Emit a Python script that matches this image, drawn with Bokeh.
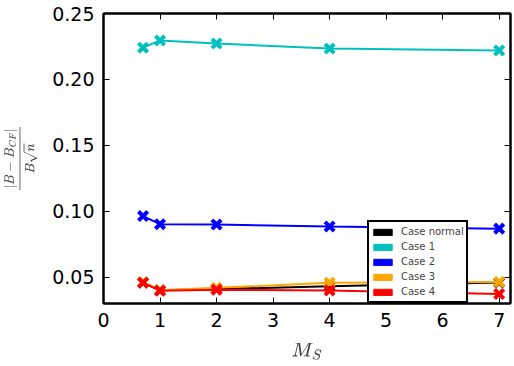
from bokeh.plotting import figure
from bokeh.models import (LinearAxis, Range1d, Legend, LegendItem, ColumnDataSource,
                          FixedTicker, CustomJSTickFormatter)
from bokeh.embed import file_html
from bokeh.resources import INLINE

# Sonic Mach number samples
ms = [0.7, 1, 2, 4, 7]

# Relative error of the field-strength estimate, per case
case_normal = [0.046, 0.040, 0.041, 0.043, 0.046]
case_1 = [0.2241, 0.2295, 0.2272, 0.2234, 0.2219]
case_2 = [0.0963, 0.0902, 0.0899, 0.0884, 0.0868]
case_3 = [0.0462, 0.0401, 0.0419, 0.0457, 0.0463]
case_4 = [0.0457, 0.0397, 0.0404, 0.0399, 0.0372]

names = ["Case normal", "Case 1", "Case 2", "Case 3", "Case 4"]
colors = ["black", "#00BFBF", "blue", "orange", "red"]
series = [case_normal, case_1, case_2, case_3, case_4]

x_ticks = [0, 1, 2, 3, 4, 5, 6, 7]
y_ticks = [0.05, 0.10, 0.15, 0.20, 0.25]

p = figure(width=514, height=366, output_backend="svg", toolbar_location=None,
           x_range=Range1d(0, 7.2), y_range=Range1d(0.03, 0.25),
           min_border_left=103, min_border_right=4, min_border_top=13,
           min_border_bottom=63)
p.grid.visible = False
p.background_fill_color = "white"
p.border_fill_color = "white"
p.outline_line_color = "black"
p.outline_line_width = 2

FONT = "DejaVu Sans"


def style_axis(ax, labels=True):
    ax.axis_line_width = 2
    ax.axis_line_color = "black"
    ax.major_tick_in = 6
    ax.major_tick_out = 0
    ax.major_tick_line_width = 1
    ax.minor_tick_line_color = None
    ax.major_label_text_font = FONT
    ax.major_label_text_font_size = "19px"
    ax.major_label_text_color = "black"
    ax.major_label_standoff = 9
    if not labels:
        ax.formatter = CustomJSTickFormatter(code="return '';")
        ax.major_label_standoff = 0


xt = FixedTicker(ticks=x_ticks)
yt = FixedTicker(ticks=y_ticks)

p.xaxis.ticker = xt
p.yaxis.ticker = yt
p.yaxis.formatter = CustomJSTickFormatter(code="return tick.toFixed(2);")
style_axis(p.xaxis[0])
style_axis(p.yaxis[0])
p.xaxis.axis_label = r"$$M_S$$"
p.yaxis.axis_label = r"$$\frac{|B-B_{CF}|}{B\sqrt{n}}$$"
p.xaxis.axis_label_text_font_size = "16px"
p.yaxis.axis_label_text_font_size = "11.5px"
p.xaxis.axis_label_standoff = 13
p.yaxis.axis_label_standoff = 12

top = LinearAxis(ticker=xt)
style_axis(top, labels=False)
p.add_layout(top, "above")
right = LinearAxis(ticker=yt)
style_axis(right, labels=False)
p.add_layout(right, "right")

items = []
for name, col, ys in zip(names, colors, series):
    src = ColumnDataSource(dict(x=ms, y=ys))
    p.line("x", "y", source=src, line_color=col, line_width=2)
    p.scatter("x", "y", source=src, marker="x", size=13, line_color=col, line_width=4)
    # legend swatch: a filled patch kept outside the visible range
    swatch = p.quad(left=[-10], right=[-9], top=[-1], bottom=[-2],
                    fill_color=col, line_color=col)
    items.append(LegendItem(label=name, renderers=[swatch]))

legend = Legend(items=items, location=(264, 0), label_text_font=FONT,
                label_text_font_size="10px", glyph_width=23, glyph_height=8,
                label_height=15, label_width=60, spacing=0, padding=2, margin=0,
                border_line_color="black", border_line_width=2, border_line_alpha=1,
                label_standoff=7, background_fill_alpha=1)
p.add_layout(legend, "center")

open("out.html", "w").write(file_html(p, INLINE))
